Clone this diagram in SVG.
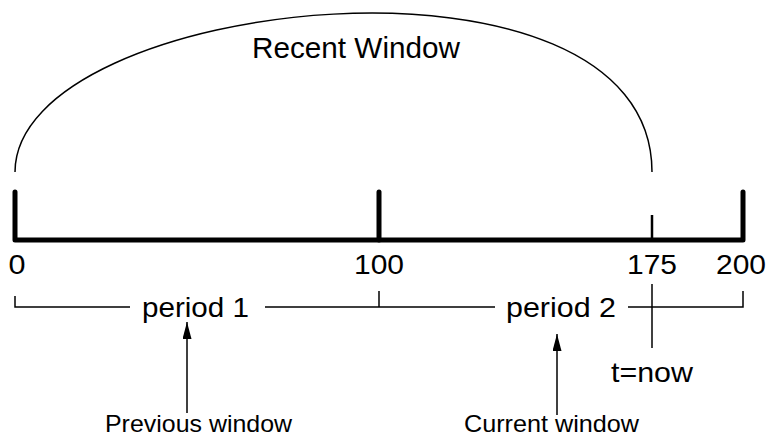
<svg xmlns="http://www.w3.org/2000/svg" width="767" height="436" viewBox="0 0 767 436">
<style>
text{font-family:"Liberation Sans",Arial,sans-serif;fill:#000}
.thin{fill:none;stroke:#000;stroke-width:1.5}
.thick{fill:none;stroke:#000;stroke-width:5;stroke-linecap:round;stroke-linejoin:round}
.num{font-size:28px;text-anchor:middle}
.lbl{font-size:28px}
.note{font-size:24px}
</style>
<defs>
<marker id="ah" markerUnits="userSpaceOnUse" markerWidth="18" markerHeight="10" refX="17" refY="4.5" orient="auto">
<path d="M0,0 L17,4.5 L0,9 z" fill="#000"/>
</marker>
</defs>
<rect width="767" height="436" fill="#fff"/>
<g id="recent-window">
<path class="thin" d="M15,172 C15,-4 652,-73 652,172"/>
<text x="252" y="58" font-size="29.5" textLength="208" lengthAdjust="spacingAndGlyphs">Recent Window</text>
</g>
<g id="axis">
<path class="thick" d="M15,192 V240 H743 V192"/>
<path class="thick" d="M379,192 V240"/>
<path d="M652,215 V240" stroke="#000" stroke-width="2.5"/>
<text class="num" x="17" y="274" textLength="17" lengthAdjust="spacingAndGlyphs">0</text>
<text class="num" x="379" y="274" textLength="50" lengthAdjust="spacingAndGlyphs">100</text>
<text class="num" x="652" y="274" textLength="50" lengthAdjust="spacingAndGlyphs">175</text>
<text class="num" x="741" y="274" textLength="50" lengthAdjust="spacingAndGlyphs">200</text>
</g>
<g id="periods">
<path class="thin" d="M15,296 V307 H130 M265,307 H495 M379,291 V307 M628,307 H743 V291"/>
<text class="lbl" x="142" y="317" textLength="107" lengthAdjust="spacingAndGlyphs">period 1</text>
<text class="lbl" x="506" y="317" textLength="110" lengthAdjust="spacingAndGlyphs">period 2</text>
</g>
<g id="now">
<path class="thin" d="M652,284 V348"/>
<text x="611" y="382" font-size="28" textLength="82" lengthAdjust="spacingAndGlyphs">t=now</text>
</g>
<g id="previous-window">
<text class="note" x="105" y="432" textLength="187" lengthAdjust="spacingAndGlyphs">Previous window</text>
</g>
<g id="current-window">
<text class="note" x="464" y="432" textLength="175" lengthAdjust="spacingAndGlyphs">Current window</text>
</g>
<g id="connectors">
<path class="thin" d="M187,413 V322" marker-end="url(#ah)"/>
<path class="thin" d="M557,415 V334" marker-end="url(#ah)"/>
</g>
</svg>
